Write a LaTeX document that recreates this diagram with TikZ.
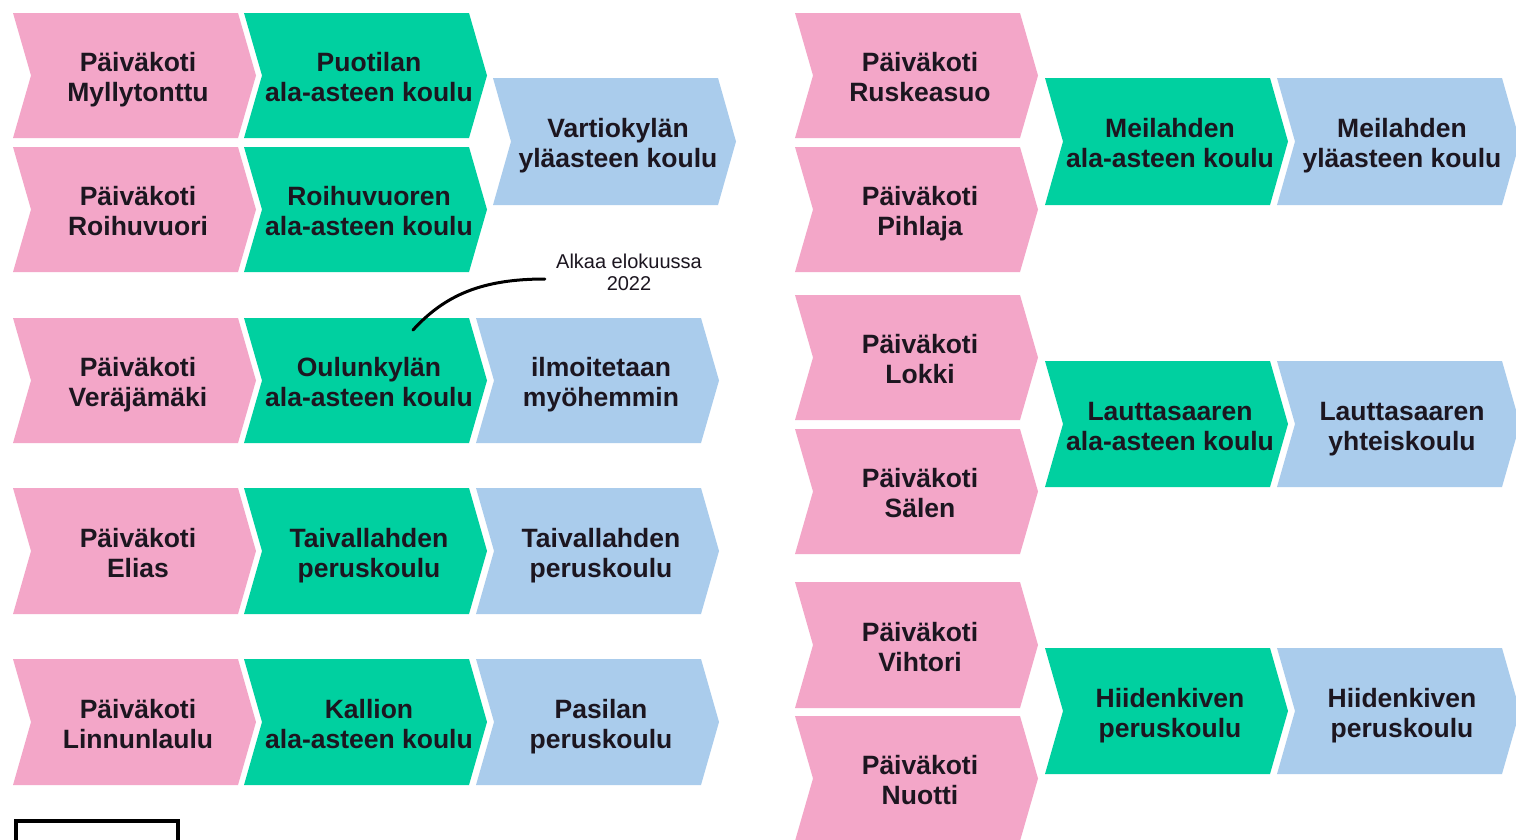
\documentclass[tikz,border=0pt]{standalone}
\usepackage{fontspec}
\setmainfont{Liberation Sans}
\definecolor{pk}{RGB}{243,166,200}
\definecolor{gr}{RGB}{0,208,160}
\definecolor{bl}{RGB}{170,204,236}
\definecolor{ink}{RGB}{28,22,32}
\tikzset{
  lbl/.style={align=center, text=ink, inner sep=0pt,
    font=\fontsize{26.5}{30}\selectfont\bfseries},
  anno/.style={align=center, text=ink, inner xsep=11pt, inner ysep=0pt,
    font=\fontsize{20}{22}\selectfont},
  leadline/.style={line width=3pt, line cap=round, draw=black},
  legendbox/.style={draw=black, line width=3.5pt, minimum width=162pt,
    minimum height=50pt, anchor=north west, inner sep=0pt}
}
% #1 left x, #2 top y, #3 bottom y, #4 colour, #5 name, #6 line 1, #7 line 2
\newcommand{\chv}[7]{%
  \fill[#4] (#1,#2) -- ({#1+225},#2) -- ({#1+243},{(#2+#3)/2}) --
    ({#1+225},#3) -- (#1,#3) -- ({#1+18},{(#2+#3)/2}) -- cycle;
  \node[lbl] (#5) at ({#1+125},{(#2+#3)/2+5}) {\strut #6\\\strut #7};}
\begin{document}
\begin{tikzpicture}[x=1pt,y=-1pt]
\useasboundingbox (0,0) rectangle (1516,839);
\clip (0,0) rectangle (1516,839);
\fill[white] (0,0) rectangle (1516,839);
% ---------- left column ----------
\chv{13}{13}{138}{pk}{pMyl}{Päiväkoti}{Myllytonttu}
\chv{244}{13}{138}{gr}{gPuo}{Puotilan}{ala-asteen koulu}
\chv{13}{147}{272}{pk}{pRoi}{Päiväkoti}{Roihuvuori}
\chv{244}{147}{272}{gr}{gRoi}{Roihuvuoren}{ala-asteen koulu}
\chv{493}{78}{205}{bl}{bVar}{Vartiokylän}{yläasteen koulu}
\chv{13}{318}{443}{pk}{pVer}{Päiväkoti}{Veräjämäki}
\chv{244}{318}{443}{gr}{gOul}{Oulunkylän}{ala-asteen koulu}
\chv{476}{318}{443}{bl}{bIlm}{ilmoitetaan}{myöhemmin}
\chv{13}{488}{614}{pk}{pEli}{Päiväkoti}{Elias}
\chv{244}{488}{614}{gr}{gTai}{Taivallahden}{peruskoulu}
\chv{476}{488}{614}{bl}{bTai}{Taivallahden}{peruskoulu}
\chv{13}{659}{785}{pk}{pLin}{Päiväkoti}{Linnunlaulu}
\chv{244}{659}{785}{gr}{gKal}{Kallion}{ala-asteen koulu}
\chv{476}{659}{785}{bl}{bPas}{Pasilan}{peruskoulu}
% ---------- right column ----------
\chv{795}{13}{138}{pk}{pRus}{Päiväkoti}{Ruskeasuo}
\chv{795}{147}{272}{pk}{pPih}{Päiväkoti}{Pihlaja}
\chv{1045}{78}{205}{gr}{gMei}{Meilahden}{ala-asteen koulu}
\chv{1277}{78}{205}{bl}{bMei}{Meilahden}{yläasteen koulu}
\chv{795}{295}{420}{pk}{pLok}{Päiväkoti}{Lokki}
\chv{795}{429}{554}{pk}{pSal}{Päiväkoti}{Sälen}
\chv{1045}{361}{487}{gr}{gLau}{Lauttasaaren}{ala-asteen koulu}
\chv{1277}{361}{487}{bl}{bLau}{Lauttasaaren}{yhteiskoulu}
\chv{795}{582}{708}{pk}{pVih}{Päiväkoti}{Vihtori}
\chv{795}{716}{841}{pk}{pNuo}{Päiväkoti}{Nuotti}
\chv{1045}{648}{774}{gr}{gHii}{Hiidenkiven}{peruskoulu}
\chv{1277}{648}{774}{bl}{bHii}{Hiidenkiven}{peruskoulu}
% ---------- annotation ----------
\node[anno] (note) at (629,272) {Alkaa elokuussa\\2022};
\coordinate (pin) at (413,330);
\draw[leadline] (pin) .. controls (445,295) and (482,279) .. ([yshift=-7pt]note.west);
% ---------- legend box (cut off) ----------
\node[legendbox] (legend) at (14,819) {};
\end{tikzpicture}
\end{document}
